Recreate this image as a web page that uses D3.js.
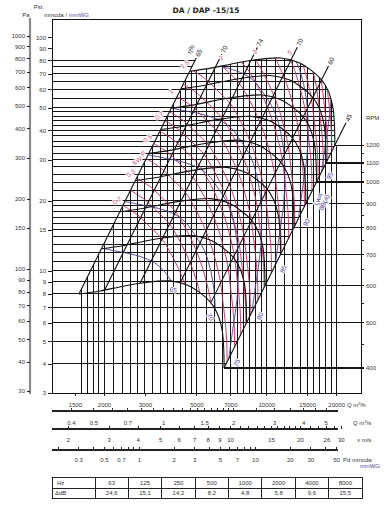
<!DOCTYPE html>
<html>
<head>
<meta charset="utf-8">
<title>DA / DAP -15/15</title>
<script src="https://cdn.jsdelivr.net/npm/d3@7"></script>
<style>
  body { margin: 0; background: #fff; }
  svg { display: block; font-family: "Liberation Sans", Arial, sans-serif; }
  .tick text { font-size: 6px; fill: #333; font-family: "Liberation Sans", Arial, sans-serif; }
  .tick line { stroke: #222; shape-rendering: crispEdges; }
  .halo { paint-order: stroke; stroke: #fff; stroke-width: 2px; stroke-linejoin: round; }
</style>
</head>
<body>
<div id="container"></div>
<script>
// ---- values ----
// 400 rpm fan curve = lower edge of the selection area (Q m3/h, Pst mmcda)
const baseQ = [1560, 1920, 2340, 2860, 3320, 3850, 4560, 5190, 5730, 6140, 6450, 6550, 6580];
const baseP = [7.97, 8.21, 8.54, 8.85, 9.02, 9.07, 8.71, 8.05, 7.37, 6.61, 5.59, 4.72, 3.84];
// absorbed power (kW) and LwA (dB(A)) at those same points, 400 rpm
const basePower = [0.054, 0.065, 0.082, 0.104, 0.129, 0.161, 0.206, 0.251, 0.295, 0.337, 0.363, 0.365, 0.366];
const baseLwa = [60.1, 60.8, 61.6, 62.6, 63.6, 64.9, 66.3, 67.7, 69.1, 70.4, 71.8, 73, 74];
const baseRpm = 400;
const rpmValues = [400, 500, 600, 700, 800, 900, 1000, 1100, 1200];
const rpmMinor = [450, 550, 650, 750, 850, 950, 1050, 1150];

// efficiency lines, where they start on the 400 rpm curve
const effNames = ["65", "70", "74", "70", "60", "45"];
const effQ = [1560, 2010, 2860, 4250, 5790, 6580];
const effP = [7.97, 8.27, 8.85, 8.87, 7.37, 3.84];

const powerLevels = [0.2, 0.25, 0.3, 0.4, 0.5, 0.6, 0.7, 0.8, 1, 1.2, 1.5, 2, 2.5, 3, 4, 5, 6, 7, 8, 9];
const powerLabels = [0.2, 0.3, 0.5, 0.7, 1, 1.5, 2, 3, 5];
const lwaLevels = [65, 70, 75, 80, 85, 90, 95];

const gridQ = [1600, 1700, 1800, 1900, 2000, 2200, 2400, 2600, 2800, 3000, 3250, 3500, 3750, 4000,
  4250, 4500, 4750, 5000, 5500, 6000, 6500, 7000, 7500, 8000, 8500, 9000, 9500, 10000, 11000,
  12000, 13000, 14000, 15000, 16000, 17000, 18000, 19000, 20000];
const gridP = [4, 5, 6, 7, 8, 9, 10, 11, 12, 13, 14, 15, 16, 17, 18, 19, 20, 22, 24, 26, 28, 30,
  32, 34, 36, 38, 40, 42, 44, 46, 48, 50, 55, 60, 65, 70, 75, 80];

const paTicks = [30, 40, 50, 60, 70, 80, 90, 100, 150, 200, 300, 400, 500, 600, 700, 800, 900, 1000];
const mmTicks = [3, 4, 5, 6, 7, 8, 9, 10, 15, 20, 30, 40, 50, 60, 70, 80, 90, 100];
const qhLabels = [1500, 2000, 3000, 5000, 7000, 10000, 15000, 20000];
const qsTicks = [0.4, 0.5, 0.6, 0.7, 0.8, 0.9, 1, 1.1, 1.2, 1.3, 1.4, 1.5, 1.6, 1.7, 1.8, 1.9, 2, 2.5, 3, 3.5, 4, 4.5, 5];
const qsLabels = [0.4, 0.5, 0.7, 1, 1.5, 2, 3, 4, 5];
const vTicks = [2, 3, 4, 5, 6, 7, 8, 9, 10, 11, 12, 13, 14, 15, 16, 17, 18, 19, 20, 22, 24, 26, 28, 30];
const vLabels = [2, 3, 4, 5, 6, 7, 8, 9, 10, 15, 20, 26, 30];
const pdTicks = [0.2, 0.3, 0.4, 0.5, 0.6, 0.7, 0.8, 0.9, 1, 2, 3, 4, 5, 6, 7, 8, 9, 10, 20, 30, 40, 50];
const pdLabels = [0.3, 0.5, 0.7, 1, 2, 3, 5, 7, 10, 20, 30, 50];

const hz = [63, 125, 250, 500, 1000, 2000, 4000, 8000];
const deltaDb = ["24,6", "15,1", "14,2", "8,2", "4,8", "5,8", "9,6", "15,5"];

const outletArea = 0.194;   // m2, links Q to v
const airDensity = 1.2;     // kg/m3, links v to Pd

// ---- drawing ----
const svg = d3.select('#container').append('svg').attr('width', 386).attr('height', 511);

const qMin = 1194, qMax = 25580, pMin = 3, pMax = 120;
const x = d3.scaleLog().domain([qMin, qMax]).range([52, 361]);
const y = d3.scaleLog().domain([pMin, pMax]).range([393, 19]);

const base = baseQ.map((q, i) => ({q, p: baseP[i]}));
const scaleTo = (pts, k) => pts.map(d => ({q: d.q * k, p: d.p * k * k}));
const line = d3.line().x(d => x(d.q)).y(d => y(d.p)).curve(d3.curveCatmullRom.alpha(0.5));
const asL = s => s.replace(/^M/, 'L');
const px = d => [x(d.q), y(d.p)];

const kMax = rpmValues[rpmValues.length - 1] / baseRpm;
const low = base, high = scaleTo(base, kMax);
const tipLow = low[low.length - 1], tipHigh = high[high.length - 1];

const rpmY = d3.scaleLog().domain([baseRpm, rpmValues[rpmValues.length - 1]])
  .range([y(tipLow.p), y(tipHigh.p)]);

// clip areas: the selection envelope, the area under it (vertical grid), the area left of it (horizontal grid)
const defs = svg.append('defs');
defs.append('clipPath').attr('id', 'env').append('path')
  .attr('d', line(low) + asL(line(high.slice().reverse())) + 'Z');
const gridRight = 20500;
defs.append('clipPath').attr('id', 'vclip').append('path')
  .attr('d', `M${x(low[0].q)},${y(pMin)}L${x(low[0].q)},${y(low[0].p)}` + asL(line(high)) +
    `L${x(gridRight)},${y(tipHigh.p)}L${x(gridRight)},${y(pMin)}Z`);
const surgeTopQ = high[0].q * Math.sqrt(pMax / high[0].p);
defs.append('clipPath').attr('id', 'hclip').append('path')
  .attr('d', `M${x(qMin)},${y(pMax)}L${x(surgeTopQ)},${y(pMax)}` + asL(line(high)) +
    `L${x(tipLow.q)},${y(tipLow.p)}L${x(tipLow.q)},${y(pMin)}L${x(qMin)},${y(pMin)}Z`);

// grid
const grid = svg.append('g').attr('stroke', '#151515').attr('stroke-width', 1).attr('shape-rendering', 'crispEdges');
grid.append('g').attr('clip-path', 'url(#vclip)')
  .selectAll('line').data(gridQ).join('line')
  .attr('x1', d => x(d)).attr('x2', d => x(d)).attr('y1', y(pMin)).attr('y2', y(pMax));
grid.append('g').attr('clip-path', 'url(#hclip)')
  .selectAll('line').data(gridP).join('line')
  .attr('x1', x(qMin)).attr('x2', x(qMax)).attr('y1', d => y(d)).attr('y2', d => y(d));

// rpm lines on the right, from each curve end to the rpm axis
grid.append('g').attr('stroke-width', 1.4)
  .selectAll('line').data(rpmValues).join('line')
  .attr('x1', n => x(tipLow.q * n / baseRpm)).attr('x2', 364)
  .attr('y1', n => rpmY(n)).attr('y2', n => rpmY(n));

// power lines (red)
const powerCurve = c => base.map((d, i) => {
  const k = Math.cbrt(c / basePower[i]);
  return {q: d.q * k, p: d.p * k * k};
});
svg.append('g').attr('clip-path', 'url(#env)')
  .selectAll('path').data(powerLevels).join('path')
  .attr('d', c => line(powerCurve(c)))
  .attr('fill', 'none').attr('stroke', '#bf2d58').attr('stroke-width', 0.9);

// sound power lines (purple)
const lwaCurve = L => base.map((d, i) => {
  const k = Math.pow(10, (L - baseLwa[i]) / 50);
  return {q: d.q * k, p: d.p * k * k};
});
svg.append('g').attr('clip-path', 'url(#env)')
  .selectAll('path').data(lwaLevels).join('path')
  .attr('d', L => line(lwaCurve(L)))
  .attr('fill', 'none').attr('stroke', '#4a3d8f').attr('stroke-width', 0.9);

// rpm curves (black)
svg.append('g').selectAll('path').data(rpmValues).join('path')
  .attr('d', n => line(scaleTo(base, n / baseRpm)))
  .attr('fill', 'none').attr('stroke', '#111').attr('stroke-width', 1.1);

// efficiency lines
const effG = svg.append('g');
effQ.forEach((q, i) => {
  const kEnd = i === effQ.length - 1 ? 3.35 : 3.2;
  const a = px({q, p: effP[i]}), b = px({q: q * kEnd, p: effP[i] * kEnd * kEnd});
  effG.append('line').attr('x1', a[0]).attr('y1', a[1]).attr('x2', b[0]).attr('y2', b[1])
    .attr('stroke', '#111').attr('stroke-width', 1.1);
  const ang = Math.atan2(b[1] - a[1], b[0] - a[0]) * 180 / Math.PI;
  const g = effG.append('g').attr('transform', `translate(${b[0]},${b[1]}) rotate(${ang})`);
  g.append('text').attr('x', 2).attr('dy', '0.35em').attr('font-size', 6.5).attr('fill', '#222')
    .text(effNames[i]);
  if (i === 0) {
    g.append('text').attr('x', 1).attr('y', -9).attr('dy', '0.35em').attr('font-size', 6.5)
      .attr('fill', '#222').text('η%');
  }
});

// power labels
const powerStart = c => {
  const k0 = Math.cbrt(c / basePower[0]);
  if (k0 <= 3.05) return {pt: px({q: baseQ[0] * k0, p: baseP[0] * k0 * k0}), top: false};
  for (let i = 1; i < base.length; i++) {
    const ka = Math.cbrt(c / basePower[i - 1]), kb = Math.cbrt(c / basePower[i]);
    if (ka >= kMax && kb < kMax) {
      const t = (ka - kMax) / (ka - kb);
      const a = px(high[i - 1]), b = px(high[i]);
      return {pt: [a[0] + t * (b[0] - a[0]), a[1] + t * (b[1] - a[1])], top: true};
    }
  }
  return null;
};
const powG = svg.append('g').attr('fill', '#d04a78').attr('font-size', 6.5);
powerLabels.forEach(c => {
  const s = powerStart(c);
  if (!s) return;
  const off = s.top ? [-1, -8] : [-6, -5];
  powG.append('text').attr('class', 'halo')
    .attr('transform', `translate(${s.pt[0] + off[0]},${s.pt[1] + off[1]}) rotate(-35)`)
    .attr('text-anchor', 'middle').attr('dy', '0.35em').text(c);
});
const pk = powerStart(0.4).pt;
powG.append('text').attr('class', 'halo')
  .attr('transform', `translate(${pk[0] - 3},${pk[1] - 5}) rotate(-35)`)
  .attr('text-anchor', 'middle').attr('dy', '0.35em').text('P');
powG.append('text').attr('class', 'halo')
  .attr('transform', `translate(${pk[0] - 9},${pk[1] + 2}) rotate(-35)`)
  .attr('text-anchor', 'middle').attr('dy', '0.35em').text('kW');

// LwA labels
const lwaG = svg.append('g').attr('fill', '#4b3f95').attr('font-size', 6.5);
const tipPx = px(tipLow), topPx = px(tipHigh);
const diagAng = Math.atan2(topPx[1] - tipPx[1], topPx[0] - tipPx[0]) * 180 / Math.PI;
const lwaTip = baseLwa[baseLwa.length - 1];
lwaLevels.forEach(L => {
  if (L < lwaTip) {
    for (let i = 1; i < base.length; i++) {
      if (baseLwa[i - 1] <= L && baseLwa[i] > L) {
        const t = (L - baseLwa[i - 1]) / (baseLwa[i] - baseLwa[i - 1]);
        const a = px(base[i - 1]), b = px(base[i]);
        const ang = Math.atan2(b[1] - a[1], b[0] - a[0]) * 180 / Math.PI;
        lwaG.append('g')
          .attr('transform', `translate(${a[0] + t * (b[0] - a[0])},${a[1] + t * (b[1] - a[1])}) rotate(${ang})`)
          .append('text').attr('class', 'halo').attr('x', 4).attr('y', 8).attr('dy', '0.35em')
          .attr('text-anchor', 'middle').text(L);
        break;
      }
    }
  } else {
    const k = Math.pow(10, (L - lwaTip) / 50);
    const p = px({q: tipLow.q * k, p: tipLow.p * k * k});
    lwaG.append('g').attr('transform', `translate(${p[0]},${p[1]}) rotate(${diagAng})`)
      .append('text').attr('class', 'halo').attr('y', 9).attr('dy', '0.35em')
      .attr('text-anchor', 'middle').text(L);
  }
});
{
  const k = Math.pow(10, (92.5 - lwaTip) / 50);
  const p = px({q: tipLow.q * k, p: tipLow.p * k * k});
  const g = lwaG.append('g').attr('transform', `translate(${p[0]},${p[1]}) rotate(${diagAng})`);
  g.append('text').attr('class', 'halo').attr('y', 9).attr('dy', '0.35em').attr('text-anchor', 'middle').text('LwA');
  g.append('text').attr('class', 'halo').attr('y', 16).attr('dy', '0.35em').attr('text-anchor', 'middle').text('dB(A)');
}

// frame
svg.append('rect').attr('x', 52).attr('y', 19).attr('width', 309).attr('height', 374)
  .attr('fill', 'none').attr('stroke', '#111').attr('stroke-width', 1).attr('shape-rendering', 'crispEdges');

// left axes
const paScale = d3.scaleLog().domain([pMin * 9.81, pMax * 9.81]).range([393, 19]);
const paAxis = svg.append('g').attr('transform', 'translate(30,0)')
  .call(d3.axisLeft(paScale).tickValues(paTicks).tickSize(3).tickSizeOuter(0).tickPadding(2).tickFormat(d => d));
paAxis.select('.domain').attr('stroke', '#8a8a8a').attr('stroke-width', 2.2).attr('d', 'M0,18V394');

const mmAxis = svg.append('g').attr('transform', 'translate(52,0)')
  .call(d3.axisLeft(y).tickValues(mmTicks).tickSize(4).tickPadding(2).tickFormat(d => d));
mmAxis.select('.domain').remove();

const head = svg.append('g').attr('font-size', 6).attr('fill', '#333');
head.append('text').attr('x', 38).attr('y', 9).attr('text-anchor', 'middle').text('Pst');
head.append('text').attr('x', 26).attr('y', 17).attr('text-anchor', 'middle').text('Pa');
const mmHead = head.append('text').attr('x', 44).attr('y', 17);
mmHead.append('tspan').text('mmcda / ');
mmHead.append('tspan').attr('fill', '#5a4aa0').text('mmWG');

svg.append('text').attr('x', 206).attr('y', 13).attr('text-anchor', 'middle')
  .attr('font-family', '"DejaVu Sans", sans-serif').attr('font-weight', 'bold').attr('font-size', 7.5)
  .attr('fill', '#222').text('DA / DAP -15/15');

// rpm axis on the right edge
const rpmG = svg.append('g');
rpmG.selectAll('line').data(rpmMinor).join('line')
  .attr('x1', 361).attr('x2', 363.5).attr('y1', d => rpmY(d)).attr('y2', d => rpmY(d))
  .attr('stroke', '#222').attr('shape-rendering', 'crispEdges');
rpmG.selectAll('text').data(rpmValues).join('text')
  .attr('x', 366).attr('y', d => rpmY(d)).attr('dy', '0.35em')
  .attr('font-size', 6).attr('fill', '#333').text(d => d);
rpmG.append('text').attr('x', 366).attr('y', 118).attr('dy', '0.35em')
  .attr('font-size', 6).attr('fill', '#333').text('RPM');

// bottom scales
const qsScale = d3.scaleLog().domain([qMin / 3600, qMax / 3600]).range([52, 361]);
const vOf = q => q / 3600 / outletArea;
const vScale = d3.scaleLog().domain([vOf(qMin), vOf(qMax)]).range([52, 361]);
const pdOf = v => airDensity * v * v / 2 / 9.81;
const pdScale = d3.scaleLog().domain([pdOf(vOf(qMin)), pdOf(vOf(qMax))]).range([52, 361]);

const qhAxis = svg.append('g').attr('transform', 'translate(0,393)')
  .call(d3.axisBottom(x).tickValues(qhLabels).tickSize(3).tickPadding(7).tickFormat(d => d));
qhAxis.select('.domain').remove();

function scaleRow(scale, ticks, labels, yPos, pad) {
  const g = svg.append('g').attr('transform', `translate(0,${yPos})`)
    .call(d3.axisBottom(scale).tickValues(ticks).tickSizeInner(-3).tickSizeOuter(0).tickPadding(pad)
      .tickFormat(d => labels.includes(d) ? d : ''));
  g.select('.domain').remove();
  g.append('line').attr('x1', 52).attr('x2', 338).attr('stroke', '#222').attr('stroke-width', 1.2)
    .attr('shape-rendering', 'crispEdges');
}
scaleRow(qsScale, qsTicks, qsLabels, 411, 10);
scaleRow(vScale, vTicks, vLabels, 429, 9);
scaleRow(pdScale, pdTicks, pdLabels, 450, 8);

const units = svg.append('g').attr('font-size', 6).attr('fill', '#333');
const u1 = units.append('text').attr('x', 347).attr('y', 407);
u1.append('tspan').text('Q m');
u1.append('tspan').attr('font-size', 4).attr('dy', -2).text('3');
u1.append('tspan').attr('dy', 2).text('/h');
const u2 = units.append('text').attr('x', 353).attr('y', 425);
u2.append('tspan').text('Q m');
u2.append('tspan').attr('font-size', 4).attr('dy', -2).text('3');
u2.append('tspan').attr('dy', 2).text('/s');
units.append('text').attr('x', 357).attr('y', 442).text('v m/s');
units.append('text').attr('x', 343).attr('y', 462).text('Pd mmcda');
units.append('text').attr('x', 380).attr('y', 468).attr('text-anchor', 'end').attr('fill', '#5a4aa0').text('mmWG');

// octave band table
const tab = svg.append('g').attr('font-size', 6).attr('fill', '#333');
const colW = (362 - 95) / hz.length;
tab.append('rect').attr('x', 52).attr('y', 477).attr('width', 310).attr('height', 21)
  .attr('fill', 'none').attr('stroke', '#222').attr('shape-rendering', 'crispEdges');
tab.append('line').attr('x1', 52).attr('x2', 362).attr('y1', 488).attr('y2', 488)
  .attr('stroke', '#222').attr('shape-rendering', 'crispEdges');
tab.selectAll('line.col').data(hz).join('line').attr('class', 'col')
  .attr('x1', (d, i) => 95 + i * colW).attr('x2', (d, i) => 95 + i * colW)
  .attr('y1', 477).attr('y2', 498).attr('stroke', '#222').attr('shape-rendering', 'crispEdges');
tab.append('text').attr('x', 57).attr('y', 484.5).text('Hz');
tab.append('text').attr('x', 55).attr('y', 495).text('ΔdB');
tab.selectAll('text.hz').data(hz).join('text').attr('class', 'hz')
  .attr('x', (d, i) => 95 + (i + 0.5) * colW).attr('y', 484.5).attr('text-anchor', 'middle').text(d => d);
tab.selectAll('text.db').data(deltaDb).join('text').attr('class', 'db')
  .attr('x', (d, i) => 95 + (i + 0.5) * colW).attr('y', 495).attr('text-anchor', 'middle').text(d => d);
</script>
</body>
</html>
